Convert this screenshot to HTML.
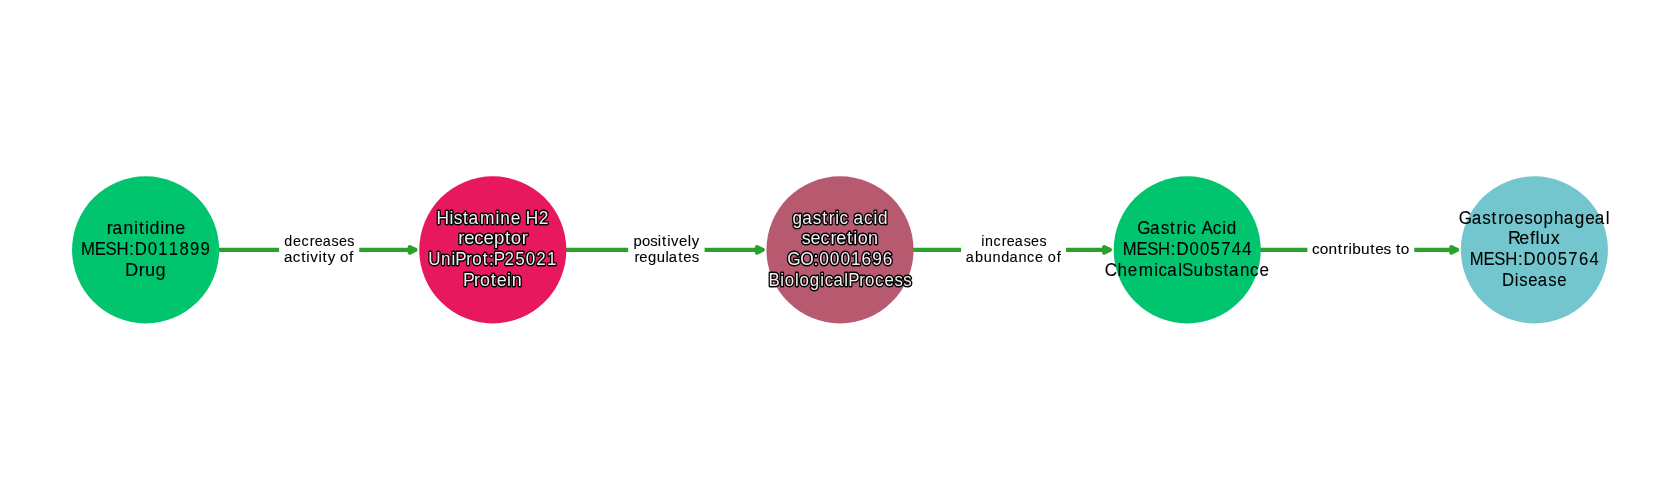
<!DOCTYPE html>
<html lang="en">
<head>
<meta charset="utf-8">
<title>Mechanism of action path: ranitidine to Gastroesophageal Reflux</title>
<style>
html,body{margin:0;padding:0;background:#ffffff;}
body{width:1680px;height:500px;overflow:hidden;}
svg{display:block;will-change:transform;}
text{font-family:"Liberation Sans",sans-serif;font-weight:400;}
.edge line{stroke:#2ca02c;stroke-width:4.167;stroke-linecap:round;}
.edge polygon{fill:#2ca02c;stroke:#2ca02c;stroke-width:4.167;stroke-linejoin:round;}
.elabel rect{fill:#ffffff;stroke:#ffffff;stroke-width:1.389;}
.elabel text{fill:#000000;stroke:#000000;stroke-width:0.1;}
.node text{fill:#000000;stroke:#000000;stroke-width:0.1;}
.node.outlined text{fill:#ffffff;fill-opacity:0.94;stroke:#000000;stroke-width:2.9;stroke-linejoin:round;paint-order:stroke fill;}
</style>
</head>
<body>
<svg width="1680" height="500" viewBox="0 0 1680 500">
<rect x="0" y="0" width="1680" height="500" fill="#ffffff"/>
<g class="edge"><line x1="218.43" y1="249.85" x2="415.31" y2="249.85"/><polygon points="409.75,247.07 415.31,249.85 409.75,252.63"/></g>
<g class="edge"><line x1="565.63" y1="249.85" x2="762.51" y2="249.85"/><polygon points="756.95,247.07 762.51,249.85 756.95,252.63"/></g>
<g class="edge"><line x1="912.83" y1="249.85" x2="1109.71" y2="249.85"/><polygon points="1104.15,247.07 1109.71,249.85 1104.15,252.63"/></g>
<g class="edge"><line x1="1260.03" y1="249.85" x2="1456.91" y2="249.85"/><polygon points="1451.35,247.07 1456.91,249.85 1451.35,252.63"/></g>
<g class="elabel">
<rect x="279.85" y="230.58" width="78.71" height="38.53" rx="4.17" ry="4.17"/>
<text transform="scale(0.9698 1)" x="293.18 302.24 310.79 319.35 324.48 332.71 341.86 349.5 358.12" y="245.75" font-size="14.80">decreases</text>
<text transform="scale(1.0254 1)" x="276.97 285.6 293.75 298.74 302.56 310.51 314.58 319.63 327.33 331.66 340.41" y="261.95" font-size="14.80">activity of</text>
</g>
<g class="elabel">
<rect x="628.92" y="230.58" width="74.96" height="38.53" rx="4.17" ry="4.17"/>
<text transform="scale(1.0092 1)" x="627.64 636.13 644.42 651.88 656.03 661.09 665.01 672.91 681.5 685.42" y="245.75" font-size="14.80">positively</text>
<text transform="scale(1.0032 1)" x="632.38 637.3 645.83 654.66 663.47 666.62 676.12 681.09 689.43" y="261.95" font-size="14.80">regulates</text>
</g>
<g class="elabel">
<rect x="961.81" y="230.58" width="103.58" height="38.53" rx="4.17" ry="4.17"/>
<text transform="scale(0.9624 1)" x="1019.48 1023.6 1032.35 1040.97 1046.15 1054.44 1063.66 1071.36 1080.04" y="245.75" font-size="14.80">increases</text>
<text transform="scale(0.9814 1)" x="984 993.44 1002.29 1011.3 1020.16 1028.53 1037.9 1046.49 1054.5 1062.94 1067.65 1076.7" y="261.95" font-size="14.80">abundance of</text>
</g>
<g class="elabel">
<rect x="1308.07" y="238.68" width="105.46" height="22.33" rx="4.17" ry="4.17"/>
<text transform="scale(1.0404 1)" x="1261.08 1268.59 1276.91 1285.75 1290.97 1296.16 1299.84 1308.2 1317.08 1321.81 1329.86 1336.94 1341.71 1346.38" y="253.85" font-size="14.80">contributes to</text>
</g>
<g class="node">
<circle cx="145.60" cy="249.85" r="73.53" fill="#00c46e"/>
<text transform="scale(0.9680 1)" x="110.3 116.03 127.44 138.34 143.53 149.85 154.48 165.52 170.27 181" y="234.05" font-size="18.60">ranitidine</text>
<text transform="scale(0.8992 1)" x="90.07 105.38 117.24 129.45 143.65 149.79 164.29 175.97 187.73 199.57 211.28 223.05" y="254.85" font-size="18.60">MESH:D011899</text>
<text transform="scale(0.9796 1)" x="127.66 141.61 148.05 158.76" y="275.65" font-size="18.60">Drug</text>
</g>
<g class="node outlined">
<circle cx="492.80" cy="249.85" r="73.53" fill="#e8185f"/>
<text transform="scale(0.9312 1)" x="468.78 482.63 487.3 497.35 503.1 515.41 532.23 537.29 548.44 559.06 564.73 578.44" y="223.65" font-size="18.60">Histamine H2</text>
<text transform="scale(1.0028 1)" x="457.09 462.9 472.84 482.22 492.63 503.6 509.38 520.23" y="244.45" font-size="18.60">receptor</text>
<text transform="scale(0.9161 1)" x="467.4 481.38 492.72 496.87 508.94 515.39 527.04 533.7 538.91 550.65 562.36 573.97 585.29 596.98" y="265.25" font-size="18.60">UniProt:P25021</text>
<text transform="scale(0.9646 1)" x="479.91 491.52 497.57 508.76 514.93 525.71 530.49" y="286.05" font-size="18.60">Protein</text>
</g>
<g class="node outlined">
<circle cx="840.00" cy="249.85" r="73.53" fill="#b7596f"/>
<text transform="scale(0.9209 1)" x="860.45 871.14 882.7 892.84 899.98 906.88 911.55 921.37 926.79 938.28 948.55 953.56" y="223.65" font-size="18.60">gastric acid</text>
<text transform="scale(0.9693 1)" x="827.02 836.15 846.42 856.75 862.82 873.96 880.28 884.8 895.51" y="244.45" font-size="18.60">secretion</text>
<text transform="scale(0.9299 1)" x="846.6 860.58 874.97 881.07 892.44 903.82 915.11 926.57 937.89 949.32" y="265.25" font-size="18.60">GO:0001696</text>
<text transform="scale(0.9056 1)" x="848.56 861.57 866.64 877.9 882.97 894.29 905.89 910.69 920.37 932.33 936.59 948.76 955.31 966.27 976.7 987.73 997.3" y="286.05" font-size="18.60">BiologicalProcess</text>
</g>
<g class="node">
<circle cx="1187.20" cy="249.85" r="73.53" fill="#00c46e"/>
<text transform="scale(0.9190 1)" x="1237.48 1251.42 1263 1273.16 1280.32 1287.22 1291.91 1301.74 1307.47 1319.67 1329.96 1334.99" y="234.05" font-size="18.60">Gastric Acid</text>
<text transform="scale(0.8950 1)" x="1254.44 1269.82 1281.73 1293.99 1308.25 1314.44 1328.99 1340.8 1352.55 1364.4 1376.26 1388.07" y="254.85" font-size="18.60">MESH:D005744</text>
<text transform="scale(0.9151 1)" x="1207.35 1221.11 1232.47 1244.35 1261.36 1266.07 1275.65 1287.52 1291.77 1304.18 1315.87 1326.89 1337.09 1342.99 1355.03 1366.05 1376.36" y="275.65" font-size="18.60">ChemicalSubstance</text>
</g>
<g class="node">
<circle cx="1534.40" cy="249.85" r="73.53" fill="#73c6cd"/>
<text transform="scale(0.9193 1)" x="1586.88 1600.82 1612.4 1622.55 1629.71 1636.13 1647.26 1658.14 1667.75 1679.13 1690.49 1701.07 1712.92 1724.37 1734.76 1746.59" y="223.65" font-size="18.60">Gastroesophageal</text>
<text transform="scale(0.9647 1)" x="1563.08 1574.92 1586.02 1591.75 1596.47 1607.55" y="244.45" font-size="18.60">Reflux</text>
<text transform="scale(0.8973 1)" x="1638.1 1653.43 1665.31 1677.55 1691.77 1697.94 1712.45 1724.24 1735.96 1747.78 1759.61 1771.39" y="265.25" font-size="18.60">MESH:D005764</text>
<text transform="scale(0.8964 1)" x="1675.56 1689.88 1694.83 1704.75 1715.42 1727.26 1737.19" y="286.05" font-size="18.60">Disease</text>
</g>
</svg>
</body>
</html>
